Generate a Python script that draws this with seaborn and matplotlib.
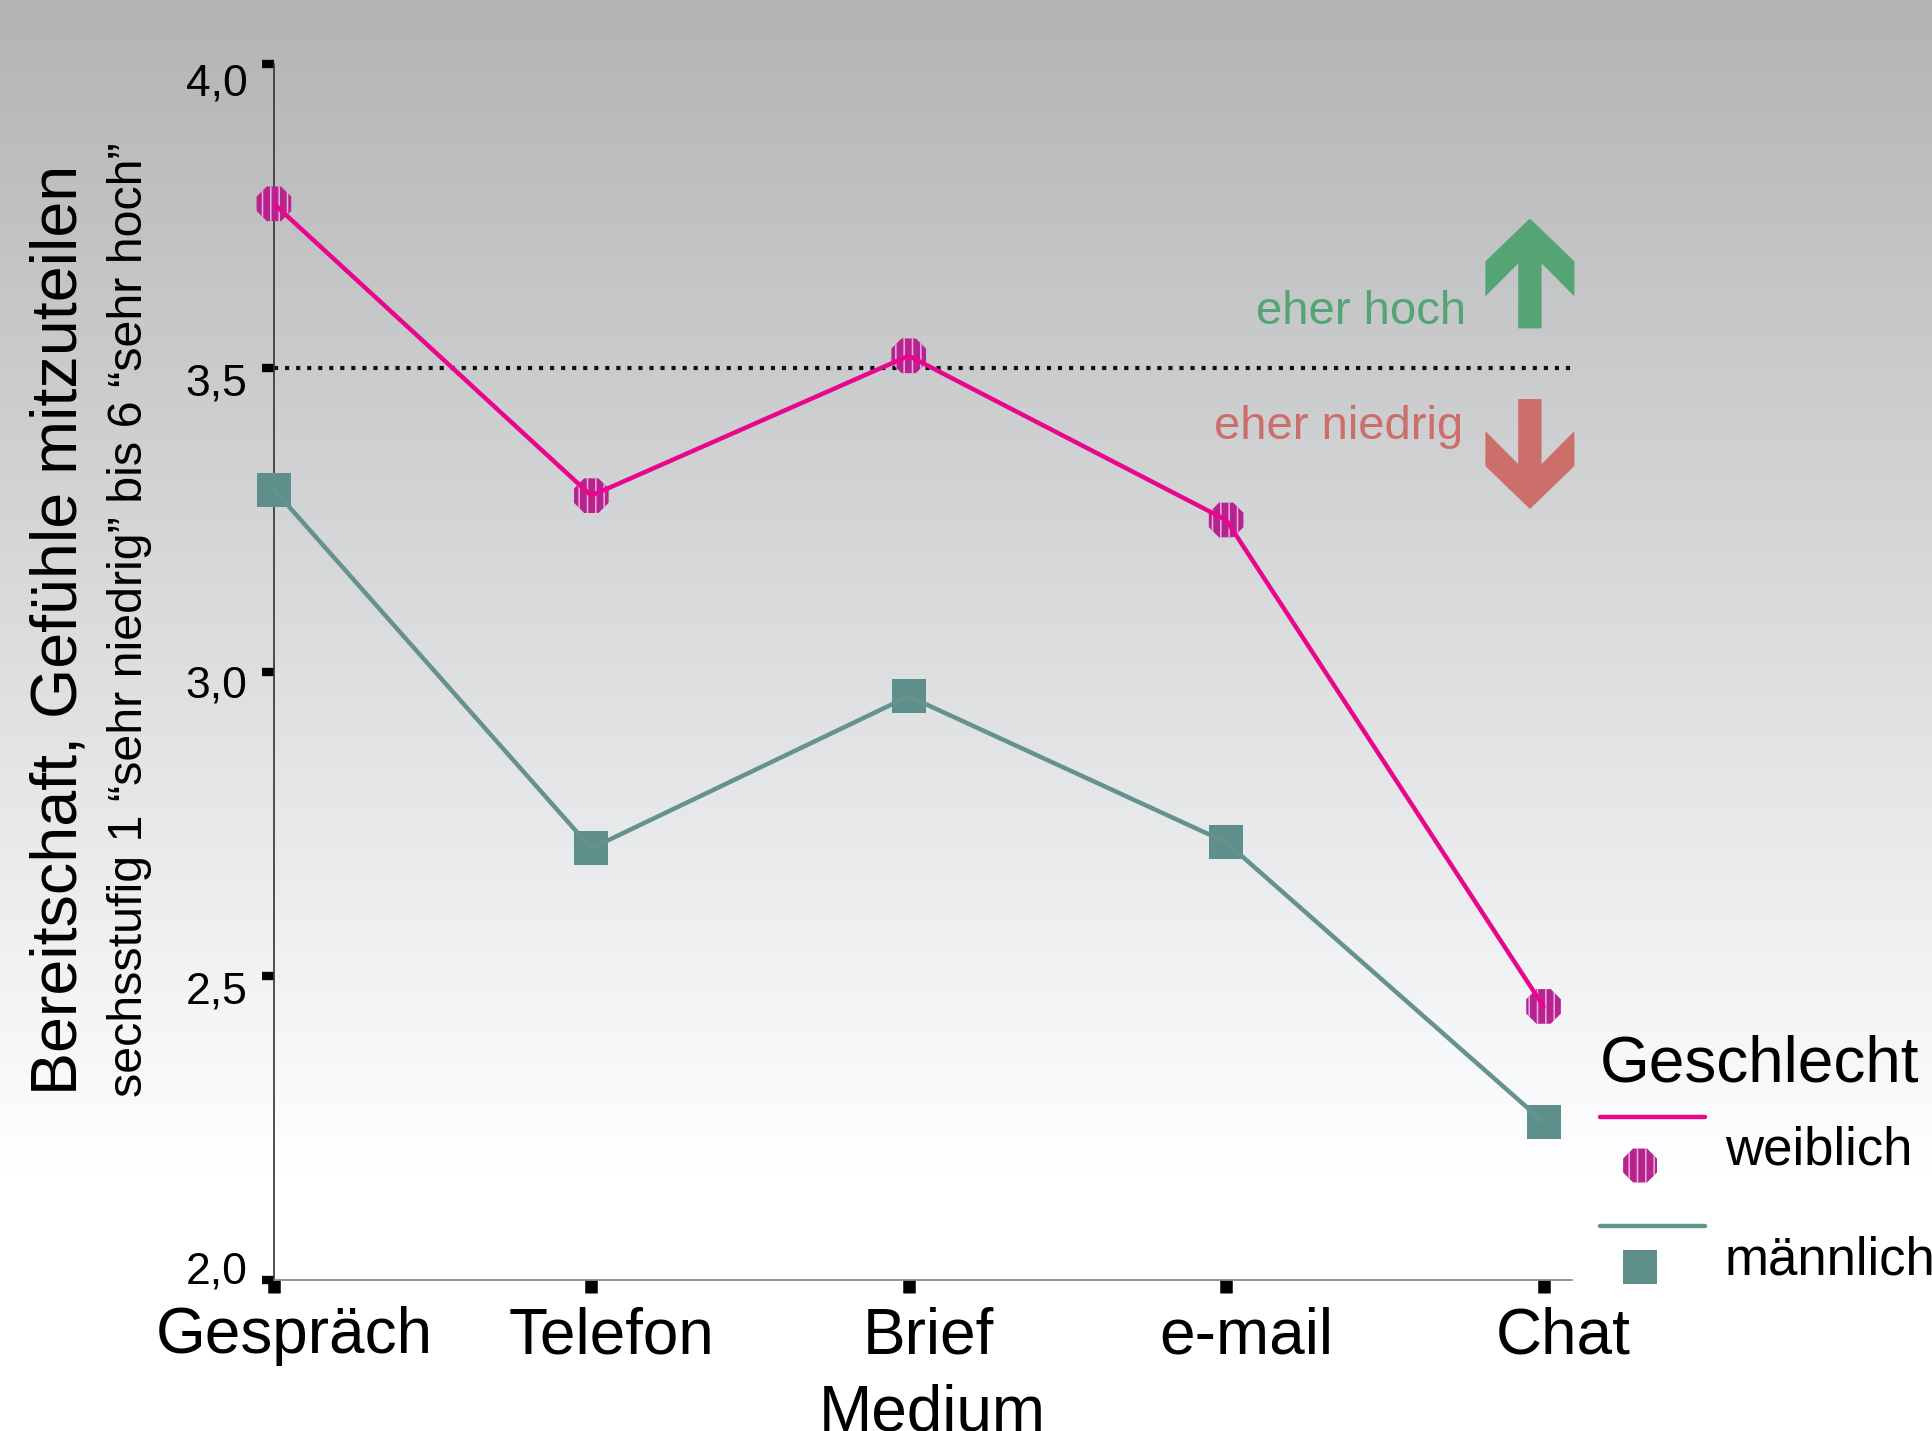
"""Bereitschaft, Gefuehle mitzuteilen - nach Medium und Geschlecht."""

import matplotlib
matplotlib.use("Agg")
import matplotlib.pyplot as plt
import matplotlib.transforms as mtransforms
import numpy as np
import pandas as pd
import seaborn as sns
from matplotlib.legend_handler import HandlerBase
from matplotlib.lines import Line2D
from matplotlib.patches import Polygon, Rectangle, RegularPolygon

# ---------------- data ----------------
medium = ["Gespräch", "Telefon", "Brief", "e-mail", "Chat"]
weiblich = [3.77, 3.29, 3.52, 3.25, 2.45]
maennlich = [3.30, 2.71, 2.96, 2.72, 2.26]
y_ticks = [2.0, 2.5, 3.0, 3.5, 4.0]
y_tick_labels = ["2,0", "2,5", "3,0", "3,5", "4,0"]
schwelle = 3.5

PINK = "#e8078c"
PINK_MARKER = "#b8248f"
HATCH = "#eab0dc"
TEAL = "#64928e"
TEAL_MARKER = "#5f8f8a"
GREEN = "#55a474"
RED = "#cc6f6a"

sns.set_theme(style="white")
plt.rcParams["font.family"] = ["Liberation Sans", "DejaVu Sans"]
plt.rcParams.update({"text.color": "black", "axes.labelcolor": "black",
                     "xtick.color": "black", "ytick.color": "black",
                     "hatch.linewidth": 1.1})

df = pd.DataFrame({
    "Medium": medium * 2,
    "Wert": weiblich + maennlich,
    "Geschlecht": ["weiblich"] * len(medium) + ["männlich"] * len(medium),
})

fig = plt.figure(figsize=(19.33, 14.31), dpi=100)

# background gradient (grey top -> white bottom)
bg = fig.add_axes([0, 0, 1, 1], zorder=-10)
frac = np.linspace(0, 1, 600)
shade = np.clip(0.70 + 0.30 * frac / 0.83, 0, 1)
grad = np.clip(np.dstack([shade, shade + 0.004, shade + 0.01]), 0, 1)
bg.imshow(grad.reshape(600, 1, 3), aspect="auto", extent=[0, 1, 0, 1], origin="upper")
bg.set_axis_off()

ax = fig.add_axes([0.1417, 0.1055, 0.6716, 0.8498])
ax.set_facecolor("none")

sns.lineplot(data=df, x="Medium", y="Wert", hue="Geschlecht", sort=False,
             palette={"weiblich": PINK, "männlich": TEAL}, linewidth=3.2,
             legend=False, ax=ax, zorder=5)
sns.scatterplot(data=df[df["Geschlecht"] == "weiblich"], x="Medium", y="Wert",
                marker="8", s=27 ** 2, color=PINK_MARKER, edgecolor=HATCH,
                linewidth=0.0, hatch="||", legend=False, ax=ax, zorder=4, clip_on=False)
sns.scatterplot(data=df[df["Geschlecht"] == "männlich"], x="Medium", y="Wert",
                marker="s", s=24 ** 2, color=TEAL_MARKER, linewidth=0,
                legend=False, ax=ax, zorder=4, clip_on=False)

ax.axhline(schwelle, color="#111111", ls=":", lw=3, zorder=2)

ax.set_xlim(0, 4.09)
ax.set_ylim(2.0, 4.0)
ax.set_yticks(y_ticks)
ax.set_yticklabels(y_tick_labels)
ax.set_xticks(range(len(medium)))
ax.set_xticklabels(medium)

for side in ["top", "right"]:
    ax.spines[side].set_visible(False)
ax.spines["left"].set_color("#333333")
ax.spines["left"].set_linewidth(1.2)
ax.spines["bottom"].set_color("#808080")
ax.spines["bottom"].set_linewidth(1.2)

ax.tick_params(axis="y", direction="out", length=9, width=6, color="black",
               labelsize=32, pad=10, left=True)
ax.tick_params(axis="x", direction="out", length=9, width=9, color="black",
               labelsize=46, pad=10, bottom=True)
for lab in ax.get_xticklabels():
    lab.set_transform(lab.get_transform() + mtransforms.ScaledTranslation(0.2, 0, fig.dpi_scale_trans))
# small vertical nudges of the y tick labels, as in the original
y_shift = [0.13, -0.11, -0.10, -0.12, -0.16]
for lab, dy in zip(ax.get_yticklabels(), y_shift):
    lab.set_transform(lab.get_transform() + mtransforms.ScaledTranslation(0, dy, fig.dpi_scale_trans))

ax.set_xlabel("Medium", fontsize=46, labelpad=12)
ax.xaxis.label.set_x(0.507)
ax.set_ylabel("")

fig.text(0.0306, 0.56, "Bereitschaft, Gefühle mitzuteilen", rotation=90,
         ha="center", va="center", fontsize=46.5)
fig.text(0.067, 0.567, "sechsstufig 1 “sehr niedrig” bis 6 “sehr hoch”", rotation=90,
         ha="center", va="center", fontsize=34.8)

# ---------------- arrows + hints ----------------
# arrow outline in inches relative to its tip (pointing up)
arrow_px = np.array([
    [0, 0], [44.5, -43], [44.5, -78], [11.7, -45], [11.7, -110],
    [-11.7, -110], [-11.7, -45], [-44.5, -78], [-44.5, -43],
]) / 100.0


def draw_arrow(x, y, up=True, color=GREEN):
    verts = arrow_px.copy()
    if not up:
        verts[:, 1] *= -1
    tr = fig.dpi_scale_trans + mtransforms.ScaledTranslation(x, y, ax.transData)
    ax.add_patch(Polygon(verts, closed=True, color=color, lw=0, transform=tr,
                         clip_on=False, zorder=5))


draw_arrow(3.957, 3.746, up=True, color=GREEN)
draw_arrow(3.957, 3.268, up=False, color=RED)
ax.text(3.755, 3.572, "eher hoch", color=GREEN, fontsize=34, ha="right", va="baseline")
ax.text(3.747, 3.383, "eher niedrig", color=RED, fontsize=34, ha="right", va="baseline")


# ---------------- legend: line above, marker below ----------------
class LinePointHandler(HandlerBase):
    def create_artists(self, legend, orig_handle, xdescent, ydescent, width, height,
                       fontsize, trans):
        color, mcolor, kind = orig_handle.get_label().split("|")
        top = height - ydescent
        line = Line2D([-xdescent, -xdescent + width], [top, top], color=color, lw=3.2,
                      transform=trans)
        cx = -xdescent + width * 0.38
        r = 12.2
        cy = top - 35
        if kind == "oct":
            mk = RegularPolygon((cx, cy), 8, radius=r / np.cos(np.pi / 8),
                                orientation=np.pi / 8, facecolor=mcolor,
                                edgecolor=HATCH, lw=0, hatch="||", transform=trans)
        else:
            cy = top - 29
            mk = Rectangle((cx - r, cy - r), 2 * r, 2 * r, facecolor=mcolor, lw=0,
                           transform=trans)
        return [line, mk]


h_w = Line2D([], [], label=f"{PINK}|{PINK_MARKER}|oct")
h_m = Line2D([], [], label=f"{TEAL}|{TEAL_MARKER}|sq")
leg = fig.legend([h_w, h_m], ["weiblich", "männlich"],
                 handler_map={Line2D: LinePointHandler()},
                 loc="upper left", bbox_to_anchor=(0.8277, 0.2195), frameon=False,
                 fontsize=38, borderpad=0, borderaxespad=0,
                 handlelength=2.0, handleheight=1.4, handletextpad=0.37,
                 labelspacing=0.92)
fig.text(0.8277, 0.2439, "Geschlecht", fontsize=46, ha="left", va="baseline")

fig.savefig("out.png", dpi=100)
